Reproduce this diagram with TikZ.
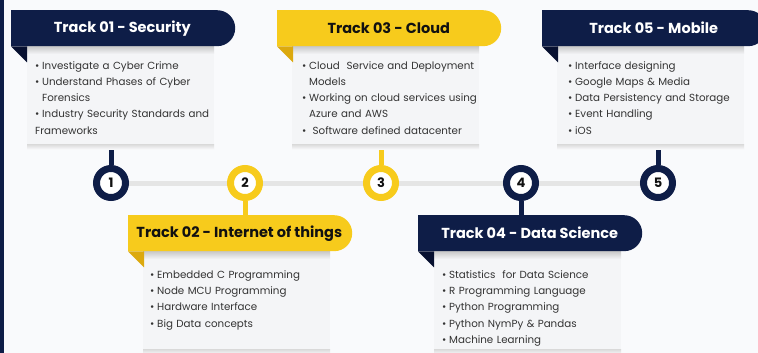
\documentclass[tikz,border=0pt]{standalone}
\usepackage{fontspec}
\setmainfont{Poppins}
\usetikzlibrary{shapes.misc,calc}

\definecolor{navy}{HTML}{0E1D47}
\definecolor{navyfold}{HTML}{071030}
\definecolor{gold}{HTML}{F7CB1C}
\definecolor{goldfold}{HTML}{DCA90E}
\definecolor{boxgray}{HTML}{F4F5F7}
\definecolor{pagebg}{HTML}{F9FAFC}
\definecolor{railgray}{HTML}{E5E5E5}
\definecolor{textgray}{HTML}{333333}
\definecolor{ink}{HTML}{111111}

\pgfdeclarelayer{bg}
\pgfdeclarelayer{lines}
\pgfsetlayers{bg,lines,main}

% one bullet line of a track box
\newcommand\itm[1]{\par\hangindent=7pt\hangafter=1\noindent\makebox[7pt][l]{\textbullet}#1}

\tikzset{
  banner/.style={rounded rectangle, rounded rectangle west arc=none,
    minimum width=224pt, minimum height=36pt, inner sep=0pt, anchor=north west,
    font=\bfseries\fontsize{14.5}{14.5}\selectfont},
  navybanner/.style={banner, fill=navy, text=white},
  goldbanner/.style={banner, fill=gold, text=ink},
  bodybox/.style={fill=boxgray, minimum width=187pt, minimum height=98pt,
    inner sep=0pt, anchor=north west},
  items/.style={anchor=north west, inner sep=0pt, text width=180pt, align=left,
    text=textgray, font=\fontsize{10.3}{16.2}\selectfont},
  num/.style={circle, fill=white, draw=#1, line width=7pt, minimum size=29pt,
    inner sep=0pt, text=ink, font=\bfseries\fontsize{13}{13}\selectfont},
  stem/.style={line width=5pt, draw=#1},
  rail/.style={line width=5pt, draw=railgray},
}

\begin{document}
\begin{tikzpicture}[x=1pt,y=-1pt]
\useasboundingbox (0,0) rectangle (758,353);
\begin{pgfonlayer}{bg}
\fill[pagebg] (0,0) rectangle (758,353);
\fill[navy] (0,0) rectangle (4,353);
\end{pgfonlayer}

% track 01
\node[bodybox] (b1) at (27,46) {};
\shade[top color=black!22, bottom color=boxgray] (b1.north west) rectangle ++(187,8);
\shade[top color=black!14, bottom color=pagebg] (b1.south west) rectangle ++(187,5);
\node[navybanner] (t1) at (11,10) {Track 01 - Security};
\fill[navyfold] (t1.south west) -- ++(16,0) -- ++(0,16) -- cycle;
\node[items] (l1) at ($(b1.north west)+(8,7)$) {%
  \itm{Investigate a Cyber Crime}
  \itm{Understand Phases of Cyber\newline Forensics}
  \itm{Industry Security Standards and\newline Frameworks}};

% track 03
\node[bodybox] (b3) at (292,46) {};
\shade[top color=black!22, bottom color=boxgray] (b3.north west) rectangle ++(187,8);
\shade[top color=black!14, bottom color=pagebg] (b3.south west) rectangle ++(187,5);
\node[goldbanner] (t3) at (277,10) {Track 03 - Cloud};
\fill[goldfold] (t3.south west) -- ++(16,0) -- ++(0,16) -- cycle;
\node[items] (l3) at ($(b3.north west)+(10,7)$) {%
  \itm{Cloud\ \ Service and Deployment\newline Models}
  \itm{Working on cloud services using\newline Azure and AWS}
  \itm{\ Software defined datacenter}};

% track 05
\node[bodybox] (b5) at (557,46) {};
\shade[top color=black!22, bottom color=boxgray] (b5.north west) rectangle ++(187,8);
\shade[top color=black!14, bottom color=pagebg] (b5.south west) rectangle ++(187,5);
\node[navybanner] (t5) at (542,10) {Track 05 - Mobile};
\fill[navyfold] (t5.south west) -- ++(16,0) -- ++(0,16) -- cycle;
\node[items] (l5) at ($(b5.north west)+(11,7)$) {%
  \itm{Interface designing}
  \itm{Google Maps \& Media}
  \itm{Data Persistency and Storage}
  \itm{Event Handling}
  \itm{iOS}};

% track 02
\node[bodybox] (b2) at (143,251) {};
\shade[top color=black!22, bottom color=boxgray] (b2.north west) rectangle ++(187,8);
\shade[top color=black!14, bottom color=pagebg] (b2.south west) rectangle ++(187,5);
\node[goldbanner] (t2) at (128,215) {Track 02 - Internet of things};
\fill[goldfold] (t2.south west) -- ++(16,0) -- ++(0,16) -- cycle;
\node[items] (l2) at ($(b2.north west)+(7,11)$) {%
  \itm{Embedded C Programming}
  \itm{Node MCU Programming}
  \itm{Hardware Interface}
  \itm{Big Data concepts}};

% track 04
\node[bodybox] (b4) at (434,251) {};
\shade[top color=black!22, bottom color=boxgray] (b4.north west) rectangle ++(187,8);
\shade[top color=black!14, bottom color=pagebg] (b4.south west) rectangle ++(187,5);
\node[navybanner] (t4) at (418,215) {Track 04 - Data Science};
\fill[navyfold] (t4.south west) -- ++(16,0) -- ++(0,16) -- cycle;
\node[items] (l4) at ($(b4.north west)+(8,11)$) {%
  \itm{Statistics\ \ for Data Science}
  \itm{R Programming Language}
  \itm{Python Programming}
  \itm{Python NymPy \& Pandas}
  \itm{Machine Learning}};

% timeline
\node[num=navy] (c1) at (111,183) {1};
\node[num=gold] (c2) at (245,183) {2};
\node[num=gold] (c3) at (381,183) {3};
\node[num=navy] (c4) at (521,183) {4};
\node[num=navy] (c5) at (658,183) {5};

\begin{pgfonlayer}{lines}
\draw[rail] (c1) -- (c5);
\draw[stem=navy] (c1) -- (c1 |- b1.south);
\draw[stem=gold] (c3) -- (c3 |- b3.south);
\draw[stem=navy] (c5) -- (c5 |- b5.south);
\draw[stem=gold] (c2) -- (c2 |- t2.north);
\draw[stem=navy] (c4) -- (c4 |- t4.north);
\end{pgfonlayer}
\end{tikzpicture}
\end{document}
